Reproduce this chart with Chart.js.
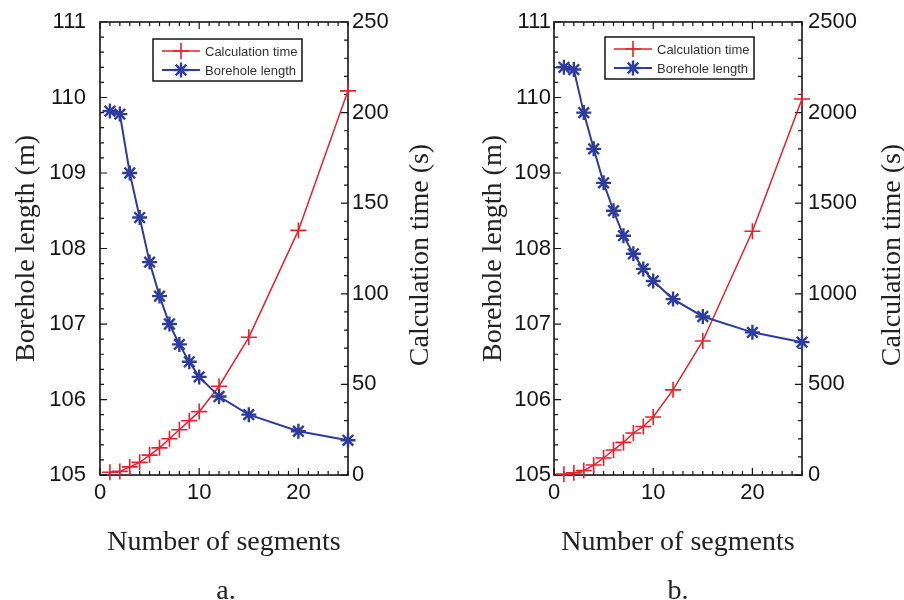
<!DOCTYPE html>
<html>
<head>
<meta charset="utf-8">
<script src="https://cdn.jsdelivr.net/npm/chart.js@4.4.1/dist/chart.umd.min.js"></script>
<style>
  html, body { margin: 0; padding: 0; background: #fff; }
  #wrap { position: relative; width: 904px; height: 600px; }
  .panel { position: absolute; top: 0; width: 452px; height: 600px; }
</style>
</head>
<body>
<div id="wrap">
  <div class="panel" style="left:0"><canvas id="chartA" width="452" height="600"></canvas></div>
  <div class="panel" style="left:452px"><canvas id="chartB" width="452" height="600"></canvas></div>
</div>
<script>
// Number of borehole segments used in the model
const segments = [1, 2, 3, 4, 5, 6, 7, 8, 9, 10, 12, 15, 20, 25];

// Case a: required borehole length (m) and calculation time (s)
const lengthA = [109.82, 109.78, 109.00, 108.41, 107.82, 107.37, 107.00, 106.73, 106.50, 106.30, 106.04, 105.80, 105.58, 105.46];
const timeA   = [1.5, 2, 4.5, 7, 11, 15, 20, 25, 30, 35, 49, 76, 135, 212];

// Case b: required borehole length (m) and calculation time (s)
const lengthB = [110.40, 110.37, 109.80, 109.32, 108.87, 108.50, 108.17, 107.93, 107.73, 107.57, 107.33, 107.10, 106.89, 106.76];
const timeB   = [5, 12, 25, 55, 94, 138, 180, 232, 268, 320, 470, 740, 1345, 2075];

// Tick labels
const segmentTicks = [0, 10, 20];
const lengthTicks  = [105, 106, 107, 108, 109, 110, 111];
const timeTicksA   = [0, 50, 100, 150, 200, 250];
const timeTicksB   = [0, 500, 1000, 1500, 2000, 2500];

const RED  = '#e8212b';
const BLUE = '#2d3c9e';
const INK  = '#151515';
const SANS = '"Liberation Sans", Arial, sans-serif';
const SERIF = '"Liberation Serif", "Times New Roman", serif';
const TICK_FONT = { family: SANS, size: 22 };

function fixedTicks(values) {
  return scale => { scale.ticks = values.map(v => ({ value: v })); };
}
// fixed axis width; label overhang is left to the layout padding
function fixedWidth(w) {
  return scale => { scale.width = w; scale.paddingTop = 0; scale.paddingBottom = 0; };
}
const plainLabel = v => String(v);

// Box frame with inward major/minor tick marks on all four sides
const frameTicks = {
  id: 'frameTicks',
  beforeDatasetsDraw(chart, args, opts) {
    const { ctx, chartArea: a, scales } = chart;
    ctx.save();
    ctx.strokeStyle = INK;
    ctx.lineWidth = 1.2;
    const major = 7, minor = 4;
    const marks = (scale, step, fn) => {
      const majors = scale.ticks.map(t => t.value);
      const n = Math.round((scale.max - scale.min) / step);
      for (let i = 0; i <= n; i++) {
        const v = scale.min + i * step;
        const isMajor = majors.some(m => Math.abs(m - v) < step / 1000);
        fn(scale.getPixelForValue(v), isMajor ? major : minor);
      }
    };
    ctx.beginPath();
    marks(scales.x, opts.xMinor, (p, len) => {
      ctx.moveTo(p, a.bottom); ctx.lineTo(p, a.bottom - len);
      ctx.moveTo(p, a.top); ctx.lineTo(p, a.top + len);
    });
    marks(scales.yLen, opts.lenMinor, (p, len) => {
      ctx.moveTo(a.left, p); ctx.lineTo(a.left + len, p);
    });
    marks(scales.yTime, opts.timeMinor, (p, len) => {
      ctx.moveTo(a.right, p); ctx.lineTo(a.right - len, p);
    });
    ctx.stroke();
    ctx.lineWidth = 1.6;
    ctx.strokeRect(a.left, a.top, a.right - a.left, a.bottom - a.top);
    ctx.restore();
  }
};

function drawMarker(ctx, style, x, y, r) {
  ctx.beginPath();
  ctx.moveTo(x - r, y); ctx.lineTo(x + r, y);
  ctx.moveTo(x, y - r); ctx.lineTo(x, y + r);
  if (style === 'star') {
    const d = r * Math.SQRT1_2;
    ctx.moveTo(x - d, y - d); ctx.lineTo(x + d, y + d);
    ctx.moveTo(x - d, y + d); ctx.lineTo(x + d, y - d);
  }
  ctx.stroke();
}

// Boxed legend inside the plot area
const boxLegend = {
  id: 'boxLegend',
  afterDatasetsDraw(chart, args, opts) {
    const { ctx, chartArea: a } = chart;
    const x0 = a.left + opts.dx, y0 = a.top + opts.dy;
    ctx.save();
    ctx.fillStyle = '#fff';
    ctx.fillRect(x0, y0, opts.w, opts.h);
    ctx.strokeStyle = INK;
    ctx.lineWidth = 1.5;
    ctx.strokeRect(x0, y0, opts.w, opts.h);
    chart.data.datasets.forEach((ds, i) => {
      const y = y0 + 12 + i * 19;
      ctx.strokeStyle = ds.borderColor;
      ctx.lineWidth = ds.borderWidth;
      ctx.beginPath();
      ctx.moveTo(x0 + 9, y); ctx.lineTo(x0 + 47, y);
      ctx.stroke();
      ctx.lineWidth = ds.pointBorderWidth;
      drawMarker(ctx, ds.pointStyle, x0 + 28, y, ds.pointRadius);
      ctx.fillStyle = '#333';
      ctx.font = '13px ' + SANS;
      ctx.textAlign = 'left';
      ctx.textBaseline = 'middle';
      ctx.fillText(ds.label, x0 + 52, y + 1);
    });
    ctx.restore();
  }
};

// Right-hand axis title, read bottom to top like the left one
const rightTitle = {
  id: 'rightTitle',
  afterDraw(chart, args, opts) {
    const { ctx } = chart;
    ctx.save();
    ctx.translate(opts.x, opts.y);
    ctx.rotate(-Math.PI / 2);
    ctx.fillStyle = '#222';
    ctx.font = '28px ' + SERIF;
    ctx.textAlign = 'center';
    ctx.textBaseline = 'middle';
    ctx.fillText(opts.text, 0, 0);
    ctx.restore();
  }
};

function makePanel(id, lengths, times, timeTicks, caption, g) {
  return new Chart(document.getElementById(id), {
    type: 'line',
    data: {
      datasets: [
        {
          label: 'Calculation time',
          data: segments.map((s, i) => ({ x: s, y: times[i] })),
          yAxisID: 'yTime',
          borderColor: RED,
          backgroundColor: RED,
          borderWidth: 1.5,
          pointStyle: 'cross',
          pointRadius: 8,
          pointBorderWidth: 1.6,
          pointBorderColor: RED,
          tension: 0,
          clip: false,
          order: 2
        },
        {
          label: 'Borehole length',
          data: segments.map((s, i) => ({ x: s, y: lengths[i] })),
          yAxisID: 'yLen',
          borderColor: BLUE,
          backgroundColor: BLUE,
          borderWidth: 2,
          pointStyle: 'star',
          pointRadius: 7.5,
          pointBorderWidth: 2.4,
          pointBorderColor: BLUE,
          tension: 0,
          clip: false,
          order: 1
        }
      ]
    },
    options: {
      responsive: false,
      animation: false,
      events: [],
      layout: { padding: { top: 22, bottom: 0, left: 0, right: 0 } },
      scales: {
        x: {
          type: 'linear',
          min: 0, max: 25,
          afterBuildTicks: fixedTicks(segmentTicks),
          afterFit: s => { s.height = 109; },
          grid: { display: false, drawTicks: false },
          border: { display: false },
          ticks: { color: INK, font: TICK_FONT, padding: 5, maxRotation: 0, callback: plainLabel },
          title: { display: true, text: 'Number of segments', color: '#222',
                   font: { family: SERIF, size: 28 }, padding: { top: 0, bottom: 25 } }
        },
        yLen: {
          type: 'linear',
          position: 'left',
          min: 105, max: 111,
          afterBuildTicks: fixedTicks(lengthTicks),
          afterFit: fixedWidth(g.leftW),
          grid: { display: false, drawTicks: false },
          border: { display: false },
          ticks: { color: INK, font: TICK_FONT, padding: g.leftPad, callback: plainLabel },
          title: { display: true, text: 'Borehole length (m)', color: '#222',
                   font: { family: SERIF, size: 28 }, padding: { top: g.leftTitlePad, bottom: 0 } }
        },
        yTime: {
          type: 'linear',
          position: 'right',
          min: 0, max: timeTicks[timeTicks.length - 1],
          afterBuildTicks: fixedTicks(timeTicks),
          afterFit: fixedWidth(g.rightW),
          grid: { display: false, drawTicks: false },
          border: { display: false },
          ticks: { color: INK, font: TICK_FONT, padding: g.rightPad, callback: plainLabel }
        }
      },
      plugins: {
        legend: { display: false },
        tooltip: { enabled: false },
        title: {
          display: true, position: 'bottom', text: caption, color: '#222',
          font: { family: SERIF, size: 28, weight: 'normal', lineHeight: 0.57 },
          padding: { top: 0, bottom: 0 }
        },
        frameTicks: { xMinor: 1, lenMinor: 0.2, timeMinor: g.timeMinor },
        boxLegend: { dx: g.legendDx, dy: g.legendDy, w: 149, h: 42 },
        rightTitle: { text: 'Calculation time (s)', x: g.rightTitleX, y: 255 }
      }
    },
    plugins: [frameTicks, boxLegend, rightTitle]
  });
}

makePanel('chartA', lengthA, timeA, timeTicksA, 'a.', {
  leftW: 100, rightW: 104, leftPad: 14, rightPad: 4, leftTitlePad: 10,
  timeMinor: 10, rightTitleX: 421, legendDx: 53, legendDy: 17
});
makePanel('chartB', lengthB, timeB, timeTicksB, 'b.', {
  leftW: 102, rightW: 102, leftPad: 3, rightPad: 6, leftTitlePad: 25,
  timeMinor: 100, rightTitleX: 441, legendDx: 51, legendDy: 15
});
</script>
</body>
</html>
